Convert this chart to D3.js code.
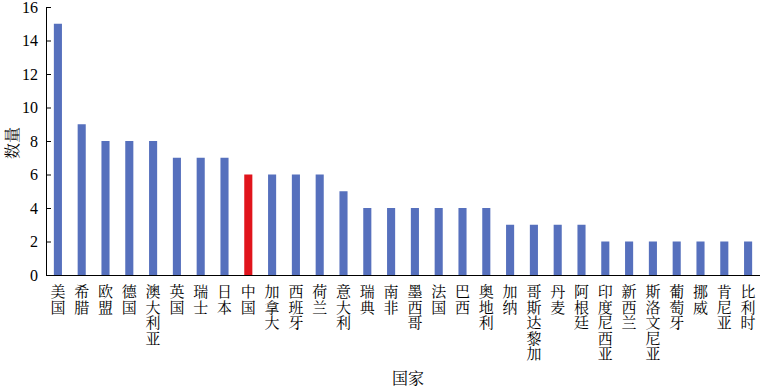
<!DOCTYPE html>
<html><head><meta charset="utf-8">
<script src="https://cdn.jsdelivr.net/npm/d3@7"></script>
<style>body{margin:0;background:#fff}svg{display:block}</style>
</head><body>
<svg id="c" width="760" height="388"></svg>
<script>
const categories = ["美国","希腊","欧盟","德国","澳大利亚","英国","瑞士","日本","中国","加拿大","西班牙","荷兰","意大利","瑞典","南非","墨西哥","法国","巴西","奥地利","加纳","哥斯达黎加","丹麦","阿根廷","印度尼西亚","新西兰","斯洛文尼亚","葡萄牙","挪威","肯尼亚","比利时"];
const values = [15,9,8,8,8,7,7,7,6,6,6,6,5,4,4,4,4,4,4,3,3,3,3,2,2,2,2,2,2,2];
const highlight = "中国";
const yTicks = [0,2,4,6,8,10,12,14,16];

const svg = d3.select("#c");
const x = d3.scaleBand().domain(categories).range([46,760]).paddingInner(0.66).paddingOuter(0.33);
const y = d3.scaleLinear().domain([0,16]).range([275,7]);
const serif = "'Liberation Serif','Times New Roman',serif";
const cjk = "'Noto Serif CJK SC','Noto Sans CJK SC',sans-serif";

svg.selectAll("rect.bar").data(categories).join("rect")
  .attr("class","bar")
  .attr("x",d=>x(d)).attr("width",x.bandwidth())
  .attr("y",(d,i)=>y(values[i])).attr("height",(d,i)=>y(0)-y(values[i]))
  .attr("fill",d=>d===highlight?"#e0141c":"#5670bd");

const ya = svg.append("g").attr("transform","translate(46,0)")
  .call(d3.axisLeft(y).tickValues(yTicks).tickSizeInner(-5).tickSizeOuter(0).tickPadding(8));
ya.select(".domain").attr("stroke","#000");
ya.selectAll(".tick line").attr("stroke","#000");
ya.selectAll("text").attr("font-family",serif).attr("font-size",16).attr("fill","#000");

svg.append("line").attr("x1",46).attr("x2",760).attr("y1",275.5).attr("y2",275.5).attr("stroke","#000");

const lab = svg.append("g").selectAll("text").data(categories).join("text")
  .attr("font-family",cjk).attr("font-size",15).attr("fill","#000").attr("text-anchor","middle");
lab.each(function(d){
  const t=d3.select(this); const cx=x(d)+x.bandwidth()/2;
  [...d].forEach((ch,i)=>t.append("tspan").attr("x",cx).attr("y",297+i*15.6).text(ch));
});

svg.append("text").attr("transform","translate(14,143) rotate(-90)")
  .attr("text-anchor","middle").attr("dominant-baseline","middle")
  .attr("font-family",cjk).attr("font-size",16).text("数量");
svg.append("text").attr("x",408).attr("y",384).attr("text-anchor","middle")
  .attr("font-family",cjk).attr("font-size",16).text("国家");
</script>
</body></html>
